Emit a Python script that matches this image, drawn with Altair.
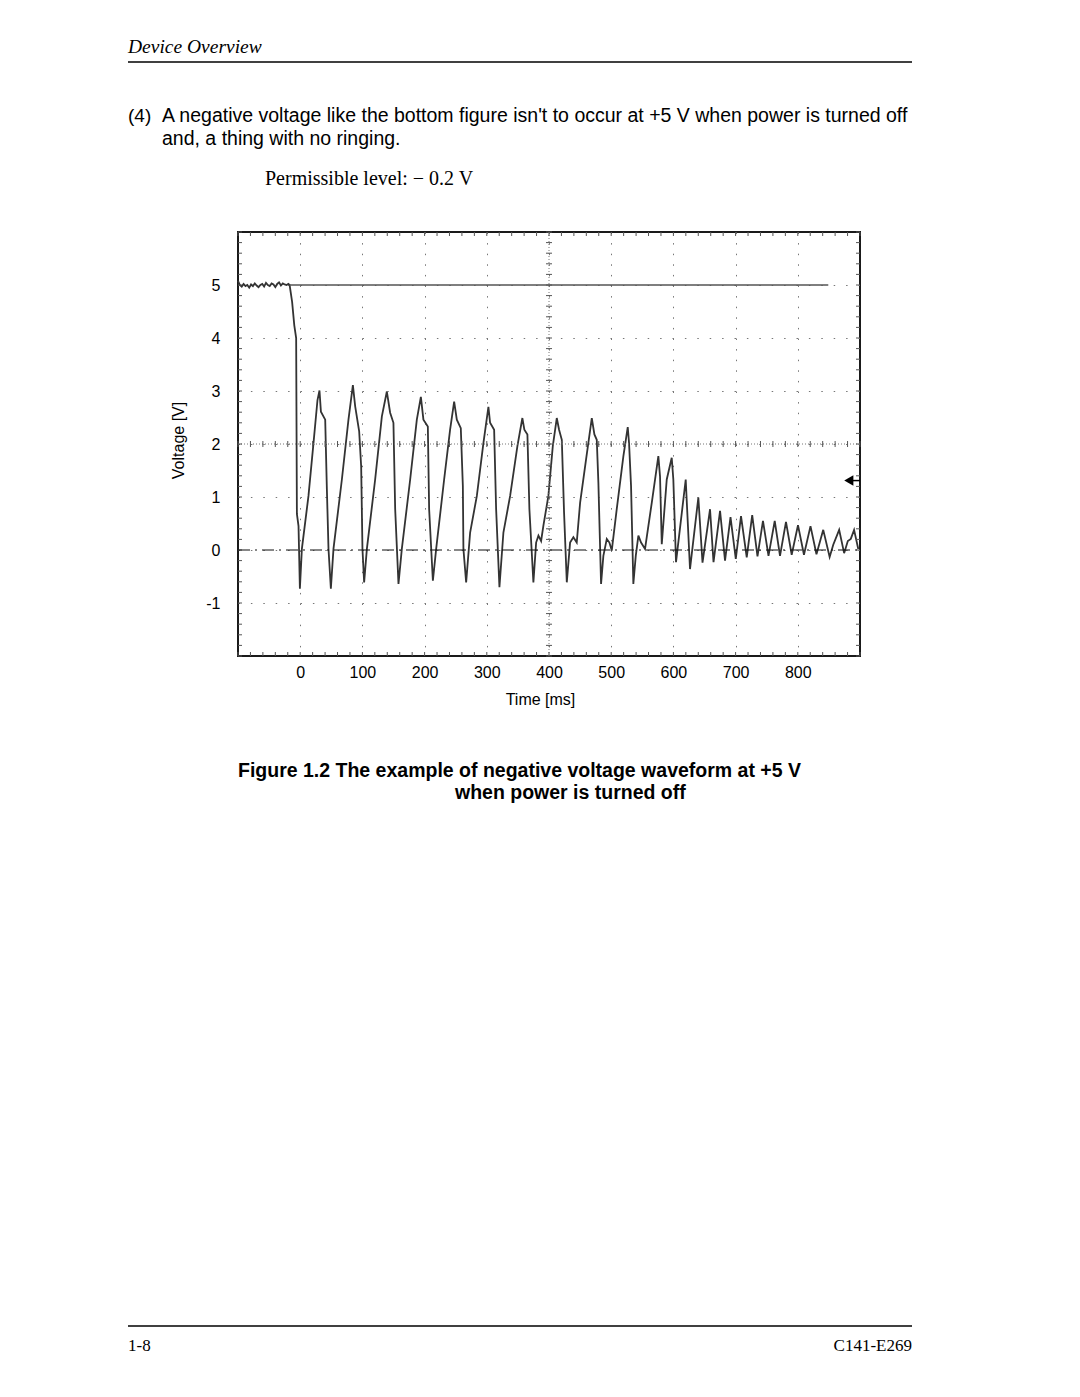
import altair as alt
import pandas as pd

# ---------------- data ----------------
# oscilloscope trace: time [ms] and voltage [V]
time_ms = [
    -100, -97, -94, -91, -88, -85, -82, -79, -76, -73, -70, -67, -64, -61,
    -58, -55, -52, -49, -46, -43, -40, -37, -34, -31, -28, -25, -22, -19,
    -17, -13, -9.5, -6.5, -5.3, -2.7, -0.5,
    2.7, 13.3, 21.4, 27.8, 31.0, 33.3, 40.2, 42.9, 45.5, 49.3,
    53.5, 67.0, 77.6, 84.7, 88.4, 94.8, 98.0, 100.1, 102.8,
    107.2, 120.5, 131.3, 139.3, 144.6, 149.9, 152.7, 158.0,
    163.4, 176.8, 187.5, 194.0, 198.1, 205.2, 207.3, 213.3,
    218.6, 231.4, 241.0, 247.5, 251.8, 258.2, 261.5, 262.4, 266.8,
    273.2, 284.0, 294.6, 302.6, 305.3, 311.8, 315.0, 320.3,
    326.7, 337.5, 349.2, 357.2, 360.4, 365.3, 368.5, 374.9,
    379.3, 383.0, 387.3, 391.0, 399.0, 406.1, 412.5, 416.2, 420.6, 424.2, 428.6,
    433.9, 439.2, 444.6, 450.0, 459.6, 468.8, 473.0, 476.8, 479.4, 483.7,
    487.4, 492.9, 497.1, 500.9, 508.9, 519.6, 526.6, 528.7, 531.9, 535.6,
    539.5, 543.7, 548.0, 554.4, 565.2, 575.8, 578.5, 581.3,
    589.3, 597.3, 599.9, 604.2,
    619.8, 626.7, 640.1, 646.8, 658.9, 664.5, 675.0, 683.0, 691.8, 700.3,
    708.7, 717.9, 726.7, 735.2, 744.0, 752.9, 762.9, 771.4, 781.0, 790.2,
    800.3, 809.9, 820.4, 830.0, 840.9, 851.2, 857.0, 866.5, 874.5, 880.4,
    885.2, 890.5, 897.2,
]
volts = [
    5.08, 5.0, 4.97, 5.02, 4.98, 5.0, 4.95, 5.01, 4.98, 5.03, 4.99, 4.96, 5.0, 5.02,
    4.97, 5.04, 5.0, 4.98, 5.03, 5.01, 4.96, 5.02, 5.05, 4.99, 5.03, 5.01, 5.0, 5.02,
    5.0, 4.68, 4.24, 4.0, 0.68, 0.45, -0.73,
    0.02, 1.02, 2.02, 2.83, 3.01, 2.61, 2.46, 1.14, 0.02, -0.73,
    0.02, 1.33, 2.46, 3.11, 2.71, 2.24, 1.58, 0.02, -0.61,
    0.02, 1.33, 2.52, 2.99, 2.59, 2.40, 0.77, -0.64,
    0.02, 1.33, 2.46, 2.89, 2.46, 2.33, 0.77, -0.58,
    0.02, 1.33, 2.27, 2.80, 2.46, 2.30, 1.21, 0.02, -0.61,
    0.33, 1.02, 2.02, 2.70, 2.40, 2.27, 0.77, -0.70,
    0.33, 1.02, 1.96, 2.49, 2.27, 2.18, 0.77, -0.61,
    0.14, 0.27, 0.17, 0.46, 1.02, 1.96, 2.49, 2.27, 2.08, 0.71, -0.61,
    0.14, 0.24, 0.14, 0.89, 1.71, 2.49, 2.18, 2.08, 1.27, -0.64,
    -0.11, 0.21, 0.14, -0.01, 0.77, 1.77, 2.32, 2.02, 1.21, -0.64,
    -0.11, 0.27, 0.14, 0.02, 0.89, 1.77, 1.39, 0.11,
    1.33, 1.74, 1.33, -0.23,
    1.33, -0.36, 0.99, -0.24, 0.77, -0.23, 0.74, -0.20, 0.62, -0.17,
    0.64, -0.14, 0.66, -0.12, 0.55, -0.11, 0.55, -0.11, 0.53, -0.09,
    0.47, -0.09, 0.45, -0.08, 0.38, -0.13, 0.10, 0.38, -0.06, 0.17,
    0.21, 0.38, 0.02,
]

x_tick_values = [0, 100, 200, 300, 400, 500, 600, 700, 800]
y_tick_values = [-1, 0, 1, 2, 3, 4, 5]
x_domain = [-100, 900]
y_domain = [-2, 6]
x_center = [400]
y_center = [2]
minor_ms = list(range(-100, 901, 20))
minor_v = [round(-2 + 0.2 * i, 1) for i in range(41)]

ref5_start, ref5_end, ref5_level = [-17], [849], [5.0]
zero_start, zero_end, zero_level = [-100], [900], [0.0]
trigger_t, trigger_end, trigger_v = [882], [900], [1.31]

header_text = "Device Overview"
item_no = "(4)"
para_line1 = "A negative voltage like the bottom figure isn't to occur at +5 V when power is turned off"
para_line2 = "and, a thing with no ringing."
permissible = "Permissible level:  \u2212 0.2 V"
caption_line1 = "Figure 1.2  The example of negative voltage waveform at +5 V"
caption_line2 = "when power is turned off"
footer_left = "1-8"
footer_right = "C141-E269"

# ---------------- chart ----------------
W, H = 622, 424
SANS = "Liberation Sans"
SERIF = "Liberation Serif"
xs = alt.Scale(domain=x_domain, nice=False, zero=False)
ys = alt.Scale(domain=y_domain, nice=False, zero=False)

x_axis = alt.Axis(
    values=x_tick_values, title="Time [ms]", grid=True, gridDash=[1.5, 9.1],
    gridColor="#777", gridWidth=1, ticks=False, domain=False,
    labelExpr="'' + datum.value",
    labelFont=SANS, labelFontSize=16, labelColor="#000", labelPadding=8,
    titleFont=SANS, titleFontSize=16, titleFontWeight="normal", titleColor="#000",
    titleX=302, titleY=43, titleBaseline="middle")
y_axis = alt.Axis(
    values=y_tick_values, title="Voltage [V]", grid=True, gridDash=[1.5, 10.9],
    gridColor="#777", gridWidth=1, ticks=False, domain=False,
    labelExpr="'' + datum.value",
    labelFont=SANS, labelFontSize=16, labelColor="#000", labelPadding=18,
    titleFont=SANS, titleFontSize=16, titleFontWeight="normal", titleColor="#000",
    titleX=-60, titleY=208, titleAngle=270, titleAlign="center",
    titleBaseline="middle")


def X(field):
    return alt.X(field, scale=xs, axis=x_axis)


def Y(field):
    return alt.Y(field, scale=ys, axis=y_axis)


wave = pd.DataFrame({"t": time_ms, "v": volts})

trace = alt.Chart(wave).mark_line(color="#333", strokeWidth=1.8).encode(
    x=X("t:Q"), y=Y("v:Q"))

tick_color = "#555"
ms_df = pd.DataFrame({"t": minor_ms})
v_df = pd.DataFrame({"v": minor_v})
tick_bottom = alt.Chart(ms_df).mark_rule(color=tick_color).encode(
    x=X("t:Q"), y=alt.value(H), y2=alt.value(H - 4))
tick_top = alt.Chart(ms_df).mark_rule(color=tick_color).encode(
    x=X("t:Q"), y=alt.value(0), y2=alt.value(4))
tick_midh = alt.Chart(ms_df).mark_rule(color=tick_color).encode(
    x=X("t:Q"), y=alt.value(H / 2 - 3), y2=alt.value(H / 2 + 3))
tick_left = alt.Chart(v_df).mark_rule(color=tick_color).encode(
    y=Y("v:Q"), x=alt.value(0), x2=alt.value(4))
tick_right = alt.Chart(v_df).mark_rule(color=tick_color).encode(
    y=Y("v:Q"), x=alt.value(W), x2=alt.value(W - 4))
tick_midv = alt.Chart(v_df).mark_rule(color=tick_color).encode(
    y=Y("v:Q"), x=alt.value(W / 2 - 3), x2=alt.value(W / 2 + 3))

center_v = alt.Chart(pd.DataFrame({"t": x_center})).mark_rule(
    color="#777", strokeDash=[1, 2]).encode(x=X("t:Q"))
center_h = alt.Chart(pd.DataFrame({"v": y_center})).mark_rule(
    color="#777", strokeDash=[1, 2]).encode(y=Y("v:Q"))

ref5 = alt.Chart(pd.DataFrame({"t": ref5_start, "b": ref5_end, "v": ref5_level})).mark_rule(
    color="#555", strokeWidth=1.5).encode(x=X("t:Q"), x2="b:Q", y=Y("v:Q"))
zero = alt.Chart(pd.DataFrame({"t": zero_start, "b": zero_end, "v": zero_level})).mark_rule(
    color="#111", strokeWidth=1.2, strokeDash=[12, 5, 2, 5]).encode(
    x=X("t:Q"), x2="b:Q", y=Y("v:Q"))

trig_df = pd.DataFrame({"t": trigger_t, "b": trigger_end, "v": trigger_v})
trig_pt = alt.Chart(trig_df).mark_point(
    shape="triangle-left", filled=True, size=110, color="#000", opacity=1).encode(
    x=X("t:Q"), y=Y("v:Q"))
trig_ln = alt.Chart(trig_df).mark_rule(color="#000", strokeWidth=1.5).encode(
    x=X("t:Q"), x2="b:Q", y=Y("v:Q"))


def page_text(s, x, y, font=SANS, size=17, style="normal", weight="normal", align="left"):
    return alt.Chart(pd.DataFrame({"s": [s]})).mark_text(
        font=font, fontSize=size, fontStyle=style, fontWeight=weight,
        align=align, baseline="middle", color="#000").encode(
        x=alt.value(x), y=alt.value(y), text="s:N")


def page_rule(x1, x2, y):
    return alt.Chart(pd.DataFrame({"s": [0]})).mark_rule(color="#000", strokeWidth=1.6).encode(
        x=alt.value(x1), x2=alt.value(x2), y=alt.value(y))


texts = [
    page_text(header_text, -110, -185, font=SERIF, size=19.5, style="italic"),
    page_rule(-110, 674, -170),
    page_text(item_no, -110, -116, size=19),
    page_text(para_line1, -76, -116, size=19.5),
    page_text(para_line2, -76, -93, size=19.5),
    page_text(permissible, 27, -53, font=SERIF, size=20),
    page_text(caption_line1, 0, 539, size=19.5, weight="bold"),
    page_text(caption_line2, 217, 561, size=19.5, weight="bold"),
    page_rule(-110, 674, 1094),
    page_text(footer_left, -110, 1114, font=SERIF, size=17),
    page_text(footer_right, 674, 1114, font=SERIF, size=17, align="right"),
]

chart = alt.layer(
    trace, center_v, center_h, tick_bottom, tick_top, tick_midh, tick_left, tick_right,
    tick_midv, ref5, zero, trig_ln, trig_pt, *texts,
).properties(
    width=W, height=H,
    autosize=alt.AutoSizeParams(type="none"),
    padding={"left": 230, "top": 224, "right": 210, "bottom": 733},
    background="#ffffff",
).configure_view(stroke="#1a1a1a", strokeWidth=2)

chart.save("out.html", embed_options={"renderer": "svg", "actions": False})
